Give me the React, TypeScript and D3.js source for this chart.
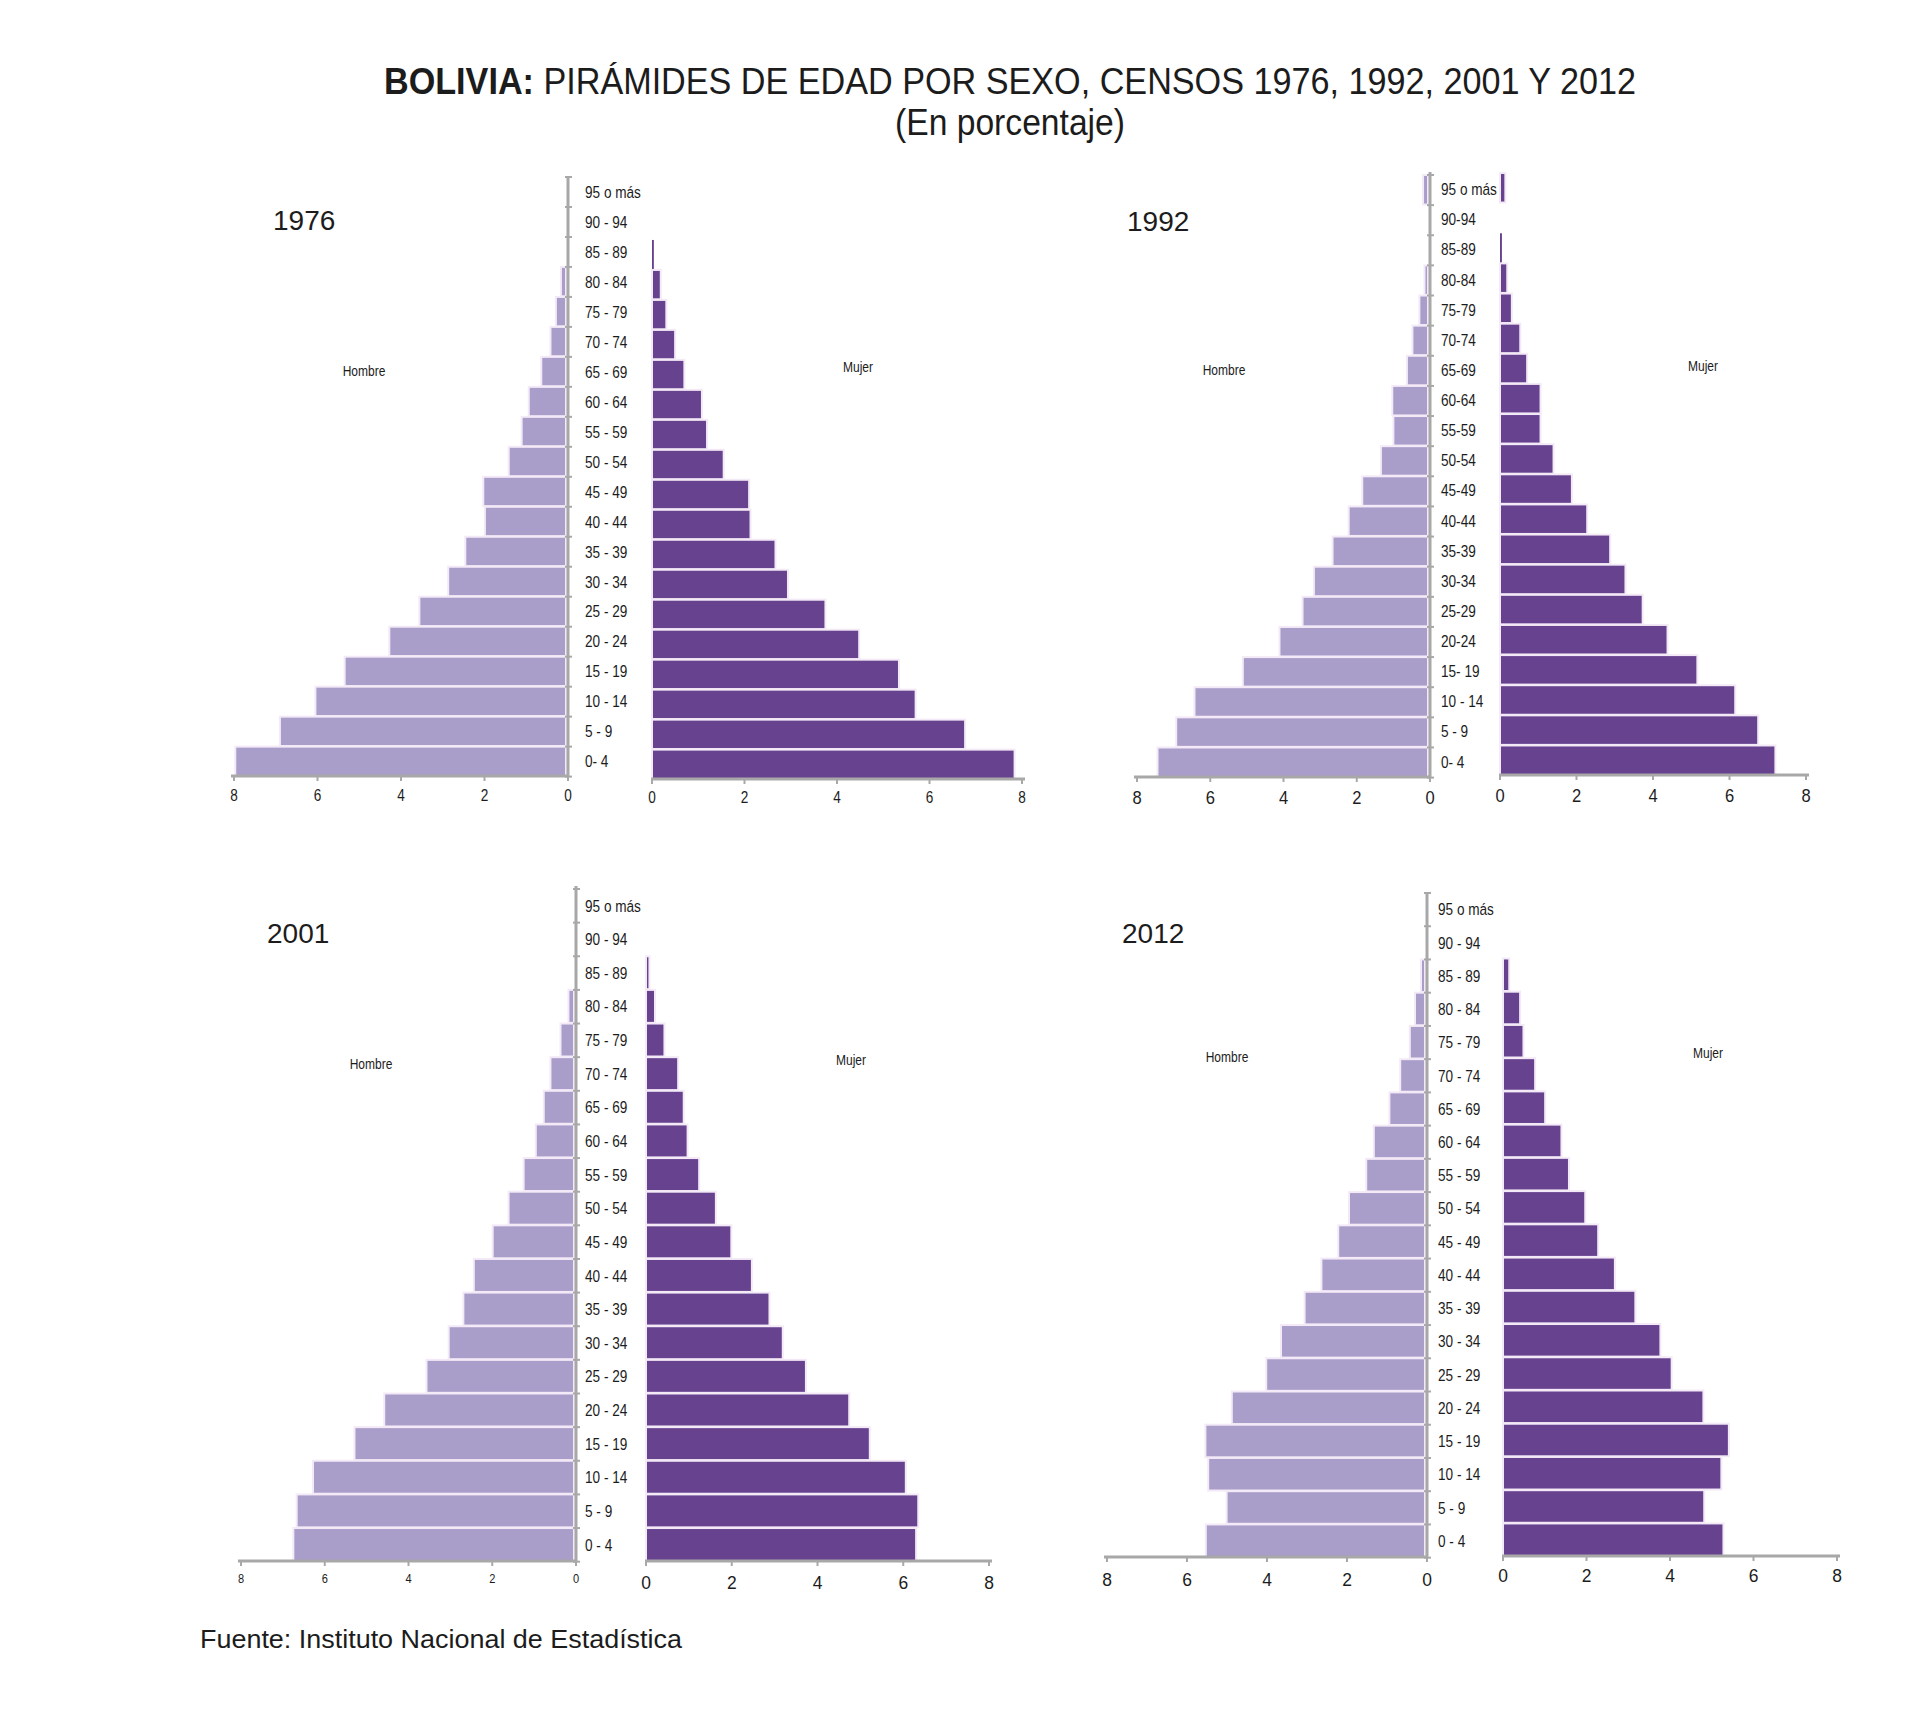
import React from 'react';
import * as d3 from 'd3';

const ages1976 = ["95 o más","90 - 94","85 - 89","80 - 84","75 - 79","70 - 74","65 - 69","60 - 64","55 - 59","50 - 54","45 - 49","40 - 44","35 - 39","30 - 34","25 - 29","20 - 24","15 - 19","10 - 14","5 - 9","0- 4"];
const ages1992 = ["95 o más","90-94","85-89","80-84","75-79","70-74","65-69","60-64","55-59","50-54","45-49","40-44","35-39","30-34","25-29","20-24","15- 19","10 - 14","5 - 9","0- 4"];
const ages2001 = ["95 o más","90 - 94","85 - 89","80 - 84","75 - 79","70 - 74","65 - 69","60 - 64","55 - 59","50 - 54","45 - 49","40 - 44","35 - 39","30 - 34","25 - 29","20 - 24","15 - 19","10 - 14","5 - 9","0 - 4"];
const ages2012 = ages2001;

const hombre1976 = [0, 0, 0, 0.17, 0.29, 0.42, 0.64, 0.94, 1.11, 1.42, 2.03, 1.99, 2.46, 2.87, 3.56, 4.28, 5.35, 6.05, 6.9, 7.97];
const mujer1976 = [0, 0, 0.04, 0.19, 0.31, 0.5, 0.7, 1.08, 1.19, 1.55, 2.1, 2.13, 2.67, 2.94, 3.75, 4.48, 5.34, 5.7, 6.77, 7.84];
const hombre1992 = [0.19, 0, 0.05, 0.15, 0.29, 0.48, 0.63, 1.03, 1.0, 1.34, 1.85, 2.22, 2.66, 3.17, 3.48, 4.11, 5.11, 6.43, 6.93, 7.44];
const mujer1992 = [0.14, 0, 0.05, 0.19, 0.31, 0.53, 0.71, 1.06, 1.06, 1.4, 1.88, 2.28, 2.88, 3.28, 3.73, 4.38, 5.16, 6.15, 6.75, 7.2];
const hombre2001 = [0, 0, 0.04, 0.18, 0.37, 0.61, 0.77, 0.96, 1.25, 1.61, 1.99, 2.44, 2.69, 3.04, 3.57, 4.58, 5.29, 6.28, 6.67, 6.75];
const mujer2001 = [0, 0, 0.08, 0.21, 0.43, 0.75, 0.88, 0.97, 1.24, 1.63, 1.99, 2.47, 2.88, 3.19, 3.73, 4.74, 5.22, 6.06, 6.35, 6.3];
const hombre2012 = [0, 0, 0.15, 0.3, 0.43, 0.67, 0.94, 1.33, 1.52, 1.95, 2.22, 2.64, 3.06, 3.65, 4.02, 4.88, 5.54, 5.47, 5.01, 5.53];
const mujer2012 = [0, 0, 0.15, 0.41, 0.49, 0.77, 1.01, 1.4, 1.58, 1.97, 2.28, 2.68, 3.17, 3.77, 4.04, 4.8, 5.41, 5.23, 4.82, 5.28];

const years = ["1976", "1992", "2001", "2012"];
const xTicks = [0, 2, 4, 6, 8];
const xMax = 8;

const panelData = [
  { year: years[0], ages: ages1976, hombre: hombre1976, mujer: mujer1976 },
  { year: years[1], ages: ages1992, hombre: hombre1992, mujer: mujer1992 },
  { year: years[2], ages: ages2001, hombre: hombre2001, mujer: mujer2001 },
  { year: years[3], ages: ages2012, hombre: hombre2012, mujer: mujer2012 },
];

// layout (pixel geometry) per panel
const layout = [
  { xl8: 234, xl0: 568, xr0: 652, xr8: 1022, yTop: 177, yBot: 776, rDy: 3, axisTop: 176, labelX: 585, labelSize: 17, labelSx: 0.8,
    yearX: 273, yearY: 230, hom: [364, 371], muj: [858, 367],
    tickL: { size: 17, y: 795, sx: 0.8 }, tickR: { size: 17, y: 797, sx: 0.8 } },
  { xl8: 1137, xl0: 1430, xr0: 1500, xr8: 1806, yTop: 175, yBot: 777, rDy: -2, axisTop: 172, labelX: 1441, labelSize: 16, labelSx: 0.85,
    yearX: 1127, yearY: 231, hom: [1224, 370], muj: [1703, 366],
    tickL: { size: 18, y: 798, sx: 0.92 }, tickR: { size: 18, y: 796, sx: 0.92 } },
  { xl8: 241, xl0: 576, xr0: 646, xr8: 989, yTop: 889, yBot: 1561, rDy: 0, axisTop: 886, labelX: 585, labelSize: 17, labelSx: 0.8,
    yearX: 267, yearY: 943, hom: [371, 1064], muj: [851, 1060],
    tickL: { size: 13, y: 1579, sx: 0.85 }, tickR: { size: 19, y: 1582, sx: 0.92 } },
  { xl8: 1107, xl0: 1427, xr0: 1503, xr8: 1837, yTop: 893, yBot: 1557, rDy: -1, axisTop: 892, labelX: 1438, labelSize: 17, labelSx: 0.8,
    yearX: 1122, yearY: 943, hom: [1227, 1057], muj: [1708, 1053],
    tickL: { size: 19, y: 1579, sx: 0.92 }, tickR: { size: 19, y: 1575, sx: 0.92 } },
];

const C_MALE = '#a99dca';
const C_FEMALE = '#66428f';
const C_GAP = '#f4eaf7';
const C_AXIS = '#a8a8a8';
const C_TEXT = '#1c1c1c';
const FONT = '"Liberation Sans", Arial, sans-serif';

function Label({ x, y, size, sx, anchor, children, weight }: any) {
  return (
    <text transform={`translate(${x},${y}) scale(${sx},1)`} fontSize={size} textAnchor={anchor || 'start'}
      dominantBaseline="central" fontFamily={FONT} fill={C_TEXT} fontWeight={weight || 'normal'}>
      {children}
    </text>
  );
}

function Panel({ d, L }: any) {
  const xL = d3.scaleLinear().domain([0, xMax]).range([L.xl0, L.xl8]);
  const xR = d3.scaleLinear().domain([0, xMax]).range([L.xr0, L.xr8]);
  const y = d3.scaleBand<string>().domain(d.ages).range([L.yTop, L.yBot]).paddingInner(0.02);
  const bh = y.bandwidth();
  const ticks = xL.ticks(5).filter((t: number) => xTicks.includes(t));
  const boundaries = d3.range(d.ages.length + 1).map((i: number) => L.yTop + i * y.step());
  return (
    <g>
      {/* male bars */}
      {d.ages.map((a: string, i: number) => d.hombre[i] > 0 ? (
        <rect key={'h' + i} x={xL(d.hombre[i])} y={y(a)} width={xL(0) - xL(d.hombre[i]) - 2} height={bh}
          fill={C_MALE} stroke={C_GAP} strokeWidth={2} />
      ) : null)}
      {/* female bars */}
      {d.ages.map((a: string, i: number) => d.mujer[i] > 0 ? (
        <rect key={'m' + i} x={xR(0)} y={(y(a) as number) + L.rDy} width={Math.max(1.5, xR(d.mujer[i]) - xR(0))} height={bh}
          fill={C_FEMALE} stroke={C_GAP} strokeWidth={d.mujer[i] < 0.06 ? 0 : 2} />
      ) : null)}
      {/* vertical axis */}
      <line x1={xL(0)} x2={xL(0)} y1={L.axisTop} y2={L.yBot} stroke={C_AXIS} strokeWidth={3} />
      {boundaries.map((b: number, i: number) => (
        <line key={'vb' + i} x1={xL(0) - 3} x2={xL(0) + 4} y1={b} y2={b} stroke={C_AXIS} strokeWidth={2} />
      ))}
      {/* bottom axis left */}
      <line x1={xL(xMax) - 3} x2={xL(0) + 1} y1={L.yBot} y2={L.yBot} stroke={C_AXIS} strokeWidth={3} />
      {ticks.map((t: number) => (
        <g key={'tl' + t}>
          <line x1={xL(t)} x2={xL(t)} y1={L.yBot} y2={L.yBot + 5} stroke={C_AXIS} strokeWidth={2} />
          <Label x={xL(t)} y={L.tickL.y} size={L.tickL.size} sx={L.tickL.sx} anchor="middle">{String(t)}</Label>
        </g>
      ))}
      {/* bottom axis right */}
      <line x1={xR(0) - 1} x2={xR(xMax) + 3} y1={L.yBot + L.rDy} y2={L.yBot + L.rDy} stroke={C_AXIS} strokeWidth={3} />
      {ticks.map((t: number) => (
        <g key={'tr' + t}>
          <line x1={xR(t)} x2={xR(t)} y1={L.yBot + L.rDy} y2={L.yBot + L.rDy + 5} stroke={C_AXIS} strokeWidth={2} />
          <Label x={xR(t)} y={L.tickR.y} size={L.tickR.size} sx={L.tickR.sx} anchor="middle">{String(t)}</Label>
        </g>
      ))}
      {/* category labels */}
      {d.ages.map((a: string) => (
        <Label key={'c' + a} x={L.labelX} y={(y(a) as number) + bh / 2} size={L.labelSize} sx={L.labelSx}>{a}</Label>
      ))}
      {/* year */}
      <text x={L.yearX} y={L.yearY} fontSize={28} fontFamily={FONT} fill={C_TEXT}>{d.year}</text>
      <Label x={L.hom[0]} y={L.hom[1]} size={15} sx={0.8} anchor="middle">Hombre</Label>
      <Label x={L.muj[0]} y={L.muj[1]} size={15} sx={0.8} anchor="middle">Mujer</Label>
    </g>
  );
}

export default function App() {
  return (
    <svg width={1920} height={1710} style={{ position: 'absolute', left: 0, top: 0, background: '#fff' }}>
      <rect width={1920} height={1710} fill="#fff" />
      <text x={384} y={94} fontSize={37} fontFamily={FONT} fill={C_TEXT} textLength={1252} lengthAdjust="spacingAndGlyphs">
        <tspan fontWeight="bold">BOLIVIA:</tspan>
        <tspan> PIRÁMIDES DE EDAD POR SEXO, CENSOS 1976, 1992, 2001 Y 2012</tspan>
      </text>
      <text x={895} y={135} fontSize={37} fontFamily={FONT} fill={C_TEXT} textLength={230} lengthAdjust="spacingAndGlyphs">(En porcentaje)</text>
      {panelData.map((d, i) => <Panel key={d.year} d={d} L={layout[i]} />)}
      <text x={200} y={1648} fontSize={25} fontFamily={FONT} fill={C_TEXT} textLength={482} lengthAdjust="spacingAndGlyphs">Fuente: Instituto Nacional de Estadística</text>
    </svg>
  );
}
